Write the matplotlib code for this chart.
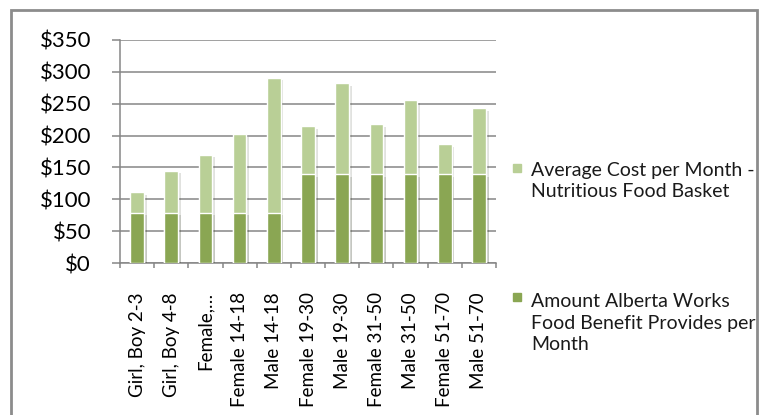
"""Alberta Works food benefit vs nutritious food basket cost."""
import numpy as np
import matplotlib
matplotlib.use('Agg')
import matplotlib.pyplot as plt
from matplotlib.patches import Rectangle
from matplotlib import patheffects as pe

groups = ['Girl, Boy 2-3', 'Girl, Boy 4-8', 'Female,\u2026', 'Female 14-18',
          'Male 14-18', 'Female 19-30', 'Male 19-30', 'Female 31-50',
          'Male 31-50', 'Female 51-70', 'Male 51-70']
basket_cost = [111, 145, 170, 202, 291, 215, 282, 218, 256, 187, 243]
benefit = [79, 79, 79, 79, 79, 140, 140, 140, 140, 140, 140]
series_labels = ['Average Cost per Month -\nNutritious Food Basket',
                 'Amount Alberta Works\nFood Benefit Provides per\nMonth']

LIGHT = '#b9cf96'
DARK = '#8aa653'
GRID = '#868686'

plt.rcParams['font.family'] = ['Lato', 'DejaVu Sans']

fig = plt.figure(figsize=(7.67, 4.15), dpi=100)
ax = fig.add_axes([120 / 767, 1 - 263 / 415, 376 / 767, 223 / 415])

x = np.arange(len(groups))
shadow = [pe.SimplePatchShadow(offset=(2, -2), alpha=0.15), pe.Normal()]
b1 = ax.bar(x, basket_cost, width=0.4, color=LIGHT, edgecolor='white',
            linewidth=1, zorder=3)
b2 = ax.bar(x, benefit, width=0.4, color=DARK, edgecolor='white',
            linewidth=1, zorder=4)
for b in list(b1) + list(b2):
    b.set_path_effects(shadow)

ax.set_xlim(-0.5, len(groups) - 0.5)
ax.set_ylim(0, 350)
ax.set_yticks(np.arange(0, 351, 50))
ax.set_yticklabels([f'${v}' for v in range(0, 351, 50)])
ax.yaxis.grid(True, color=GRID, linewidth=1.1, zorder=0)
ax.set_axisbelow(True)

ax.set_xticks(x)
ax.set_xticklabels(groups, rotation=90, va='top', ha='center')
ax.set_xticks(np.arange(-0.5, len(groups)), minor=True)
ax.tick_params(axis='x', which='major', length=0, pad=21, labelsize=13.5)
ax.tick_params(axis='x', which='minor', length=3.5, color=GRID, width=1.1)
ax.tick_params(axis='y', length=5.8, color=GRID, width=1.1, pad=15,
               labelsize=16)

for side in ['top', 'right']:
    ax.spines[side].set_visible(False)
for side in ['left', 'bottom']:
    ax.spines[side].set_color(GRID)
    ax.spines[side].set_linewidth(1.1)

# outer chart border (bottom edge runs off the image)
border = Rectangle((11 / 767, -0.05), 746 / 767, 1.05 - 10 / 415,
                   transform=fig.transFigure, fill=False,
                   edgecolor='#8c8c8c', linewidth=2, zorder=10)
fig.add_artist(border)

# legend, drawn by hand to match the spread-out layout
legend_y = [1 - 181 / 415, 1 - 323 / 415]
for color, label, ly in zip([LIGHT, DARK], series_labels, legend_y):
    first_line_y = ly + label.count('\n') * 13 / 415
    fig.add_artist(Rectangle((513 / 767, first_line_y - 4 / 415), 8 / 767, 8 / 415,
                             transform=fig.transFigure, color=color))
    t = fig.text(531 / 767, ly, label, va='center', ha='left', fontsize=14,
                 linespacing=1.35, color='#1a1a1a')
    t.set_clip_path(border)

fig.savefig('out.png', dpi=100)
